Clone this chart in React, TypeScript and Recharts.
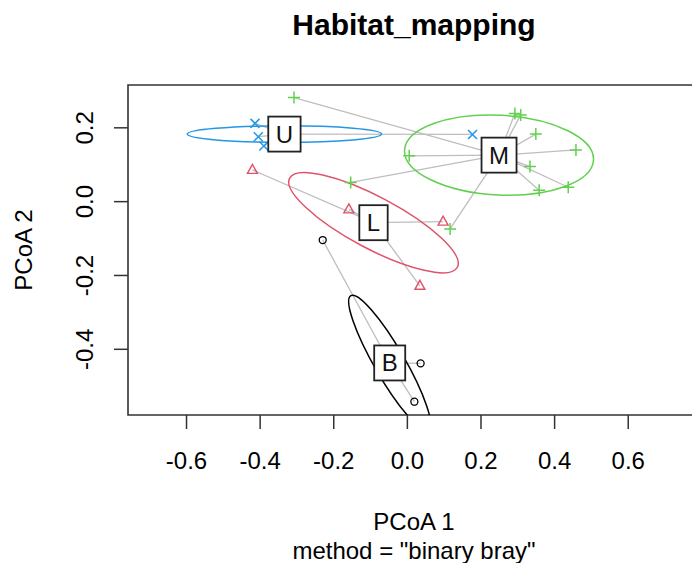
import React from "react";
import { ScatterChart, Scatter, XAxis, YAxis, ReferenceLine, ReferenceDot, ReferenceArea } from "recharts";

// PCoA scores (betadisper, binary Bray-Curtis), one list per habitat group
const bPoints = [[-0.230, -0.104], [0.036, -0.438], [0.019, -0.542]];
const lPoints = [[-0.421, 0.086], [-0.159, -0.021], [0.097, -0.054], [0.034, -0.228]];
const mPoints = [
  [0.292, 0.239], [0.308, 0.235], [0.349, 0.183], [0.458, 0.140],
  [0.437, 0.039], [0.358, 0.031], [0.333, 0.095], [0.005, 0.124],
  [-0.308, 0.282], [-0.154, 0.052], [0.116, -0.074],
];
const uPoints = [[-0.414, 0.212], [-0.405, 0.176], [-0.390, 0.151], [0.177, 0.182]];

const groupNames = ["B", "L", "M", "U"];
const centroidX = [-0.048, -0.092, 0.249, -0.334];
const centroidY = [-0.437, -0.057, 0.126, 0.183];

// standard-deviation ellipses: semi-axes and rotation (degrees, counter-clockwise)
const ellipseA = [0.211, 0.258, 0.257, 0.264];
const ellipseB = [0.041, 0.070, 0.108, 0.0225];
const ellipseAngle = [-60, -28, -3, 0];

const xTicks = [-0.6, -0.4, -0.2, 0, 0.2, 0.4, 0.6];
const yTicks = [-0.4, -0.2, 0, 0.2];

const palette = ["#000000", "#DF536B", "#61D04F", "#2297E6"];
const FONT = "'Liberation Sans', Arial, sans-serif";

const X_MIN = -0.759;
const X_MAX = 0.795;
const Y_MIN = -0.578;
const Y_MAX = 0.316;

const CHART_W = 720;
const CHART_H = 563;
const PLOT_LEFT = 128;
const PLOT_TOP = 85;
const PLOT_RIGHT = 700;
const PLOT_BOTTOM = 415;
const PLOT_W = PLOT_RIGHT - PLOT_LEFT;
const PLOT_H = PLOT_BOTTOM - PLOT_TOP;
const KX = PLOT_W / (X_MAX - X_MIN);
const KY = PLOT_H / (Y_MAX - Y_MIN);

const pointSets = [bPoints, lPoints, mPoints, uPoints];
const letterWidth: Record<string, number> = { B: 0.667, L: 0.556, M: 0.833, U: 0.722 };

const fmt = (v: number) => v.toFixed(1);

const XTick = (props: any) => (
  <text x={props.x} y={PLOT_BOTTOM + 54} textAnchor="middle" fontSize={24} fill="#000" fontFamily={FONT}>
    {fmt(props.payload.value)}
  </text>
);

const YTick = (props: any) => {
  const tx = 93;
  return (
    <text x={tx} y={props.y} transform={`rotate(-90 ${tx} ${props.y})`} textAnchor="middle" fontSize={24} fill="#000" fontFamily={FONT}>
      {fmt(props.payload.value)}
    </text>
  );
};

// R plotting symbols: pch 1 (circle), 2 (triangle), 3 (plus), 4 (cross)
const makeMarker = (g: number) => (props: any) => {
  const { cx, cy } = props;
  const c = palette[g];
  if (g === 0) return <circle cx={cx} cy={cy} r={3.5} fill="none" stroke={c} strokeWidth={1.3} />;
  if (g === 1)
    return <path d={`M${cx},${cy - 5.5}L${cx + 5},${cy + 3.5}L${cx - 5},${cy + 3.5}Z`} fill="none" stroke={c} strokeWidth={1.4} />;
  if (g === 2)
    return <path d={`M${cx - 6},${cy}H${cx + 6}M${cx},${cy - 6}V${cy + 6}`} stroke={c} strokeWidth={1.5} />;
  return <path d={`M${cx - 4.5},${cy - 4.5}L${cx + 4.5},${cy + 4.5}M${cx - 4.5},${cy + 4.5}L${cx + 4.5},${cy - 4.5}`} stroke={c} strokeWidth={1.5} />;
};

const makeEllipse = (g: number) => (props: any) => {
  const { cx, cy } = props;
  return (
    <g clipPath="url(#plot-clip)">
      <ellipse
        cx={cx}
        cy={cy}
        rx={ellipseA[g] * KX}
        ry={ellipseB[g] * KY}
        transform={`rotate(${-ellipseAngle[g]} ${cx} ${cy})`}
        fill="none"
        stroke={palette[g]}
        strokeWidth={1.5}
      />
    </g>
  );
};

const makeLabel = (g: number) => (props: any) => {
  const { cx, cy } = props;
  const name = groupNames[g];
  const w = letterWidth[name] * 24 + 15;
  const h = 35;
  return (
    <g>
      <rect x={cx - w / 2} y={cy - h / 2} width={w} height={h} fill="#fff" stroke="#222" strokeWidth={1.8} />
      <text x={cx} y={cy + 8.5} textAnchor="middle" fontSize={24} fill="#111" fontFamily={FONT}>
        {name}
      </text>
    </g>
  );
};

export default function App() {
  return (
    <div style={{ position: "absolute", left: 0, top: 0, width: 692, height: 563, overflow: "hidden", background: "#fff" }}>
      <svg width={0} height={0} style={{ position: "absolute" }}>
        <defs>
          <clipPath id="plot-clip">
            <rect x={PLOT_LEFT} y={PLOT_TOP} width={PLOT_W} height={PLOT_H} />
          </clipPath>
        </defs>
      </svg>
      <ScatterChart width={CHART_W} height={CHART_H} margin={{ top: PLOT_TOP, right: CHART_W - PLOT_RIGHT, bottom: CHART_H - PLOT_BOTTOM - 60, left: 0 }}>
        <XAxis
          type="number"
          dataKey="x"
          domain={[X_MIN, X_MAX]}
          allowDataOverflow
          ticks={xTicks}
          interval={0}
          height={60}
          axisLine={false}
          tickSize={14}
          tickLine={{ stroke: "#333", strokeWidth: 1.5 }}
          tick={<XTick />}
        />
        <YAxis
          type="number"
          dataKey="y"
          domain={[Y_MIN, Y_MAX]}
          allowDataOverflow
          ticks={yTicks}
          interval={0}
          width={PLOT_LEFT}
          axisLine={false}
          tickSize={14}
          tickLine={{ stroke: "#333", strokeWidth: 1.5 }}
          tick={<YTick />}
        />
        {pointSets.map((pts, g) =>
          pts.map((p, i) => (
            <ReferenceLine
              key={`seg-${g}-${i}`}
              segment={[{ x: p[0], y: p[1] }, { x: centroidX[g], y: centroidY[g] }]}
              stroke="#BEBEBE"
              strokeWidth={1.3}
              ifOverflow="visible"
            />
          ))
        )}
        {groupNames.map((name, g) => (
          <ReferenceDot key={`ell-${name}`} x={centroidX[g]} y={centroidY[g]} r={1} ifOverflow="visible" shape={makeEllipse(g)} />
        ))}
        {pointSets.map((pts, g) => (
          <Scatter
            key={`pts-${g}`}
            name={groupNames[g]}
            data={pts.map((p) => ({ x: p[0], y: p[1] }))}
            shape={makeMarker(g)}
            isAnimationActive={false}
          />
        ))}
        {groupNames.map((name, g) => (
          <ReferenceDot key={`lab-${name}`} x={centroidX[g]} y={centroidY[g]} r={1} ifOverflow="visible" shape={makeLabel(g)} />
        ))}
        <ReferenceArea x1={X_MIN} x2={X_MAX} y1={Y_MIN} y2={Y_MAX} fill="none" fillOpacity={0} stroke="#333" strokeWidth={1.6} ifOverflow="visible" />
      </ScatterChart>
      <svg width={692} height={563} style={{ position: "absolute", left: 0, top: 0, pointerEvents: "none" }}>
        <text x={414} y={35} textAnchor="middle" fontSize={30} fontWeight="bold" fill="#000" fontFamily={FONT}>
          Habitat_mapping
        </text>
        <text x={414} y={530} textAnchor="middle" fontSize={24} fill="#000" fontFamily={FONT}>
          PCoA 1
        </text>
        <text x={414} y={559} textAnchor="middle" fontSize={24} fill="#000" fontFamily={FONT}>
          method = "binary bray"
        </text>
        <text x={32} y={250} transform="rotate(-90 32 250)" textAnchor="middle" fontSize={24} fill="#000" fontFamily={FONT}>
          PCoA 2
        </text>
      </svg>
    </div>
  );
}
